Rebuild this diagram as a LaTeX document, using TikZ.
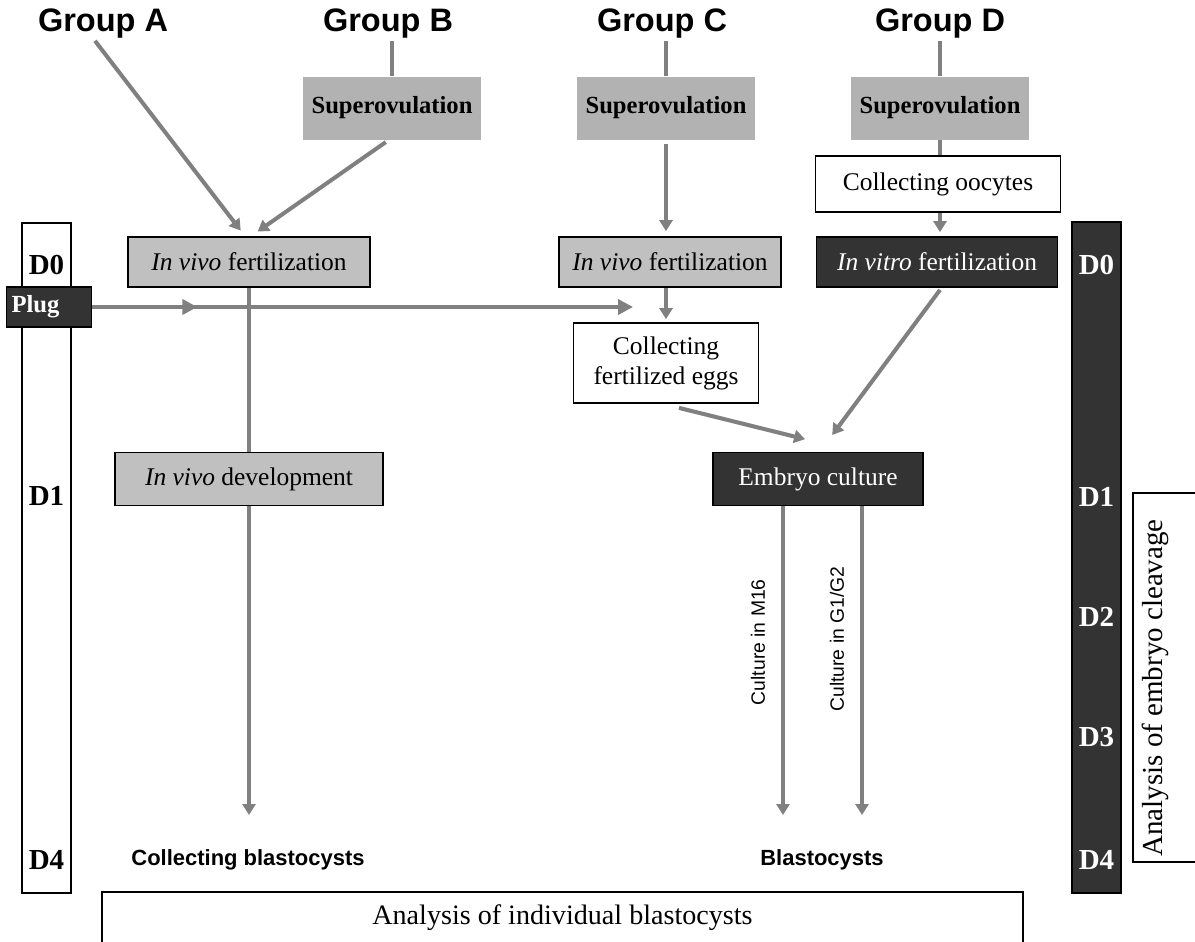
\documentclass[tikz,border=0pt]{standalone}
\usepackage{fontspec}
\setmainfont{Liberation Serif}
\newfontfamily\arialfont{Liberation Sans}
\usetikzlibrary{arrows.meta,decorations.markings}
\definecolor{supergray}{RGB}{178,178,178}
\definecolor{boxgray}{RGB}{192,192,192}
\definecolor{darkfill}{RGB}{51,51,51}
\definecolor{arrowgray}{RGB}{128,128,128}
\tikzset{
groupname/.style={
  font=\arialfont\bfseries\fontsize{18.5}{21}\selectfont,
  inner sep=1pt
},
superbox/.style={
  fill=supergray,
  minimum width=3.56cm,
  minimum height=1.26cm,
  font=\bfseries\fontsize{14}{17}\selectfont
},
lightbox/.style={
  draw=black,
  line width=1pt,
  fill=boxgray,
  minimum height=1cm,
  font=\fontsize{14.5}{17}\selectfont
},
whitebox/.style={
  draw=black,
  line width=1pt,
  fill=white,
  align=center,
  font=\fontsize{14.5}{17}\selectfont
},
darkbox/.style={
  draw=black,
  line width=1pt,
  fill=darkfill,
  text=white,
  font=\fontsize{14.5}{17}\selectfont
},
daylabel/.style={
  font=\bfseries\fontsize{16.5}{19}\selectfont,
  inner sep=1pt
},
resultlabel/.style={
  font=\arialfont\bfseries\fontsize{12.5}{15}\selectfont
},
mediumlabel/.style={
  font=\arialfont\fontsize{11}{13}\selectfont,
  rotate=90,
  anchor=south,
  inner sep=0.32cm
},
flowline/.style={
  draw=arrowgray,
  line width=2.3pt
},
flowarrow/.style={
  flowline,
  -{Triangle[length=2.2mm,width=2.6mm]}
}
}

\begin{document}
\begin{tikzpicture}[x=0.02cm, y=-0.02cm]
\clip (0,0) rectangle (1195,941);

\node[draw=black, line width=1.1pt, fill=white, minimum width=0.98cm, minimum height=13.4cm] (leftbar) at (46.5,558) {};
\node[draw=black, line width=1.1pt, fill=darkfill, minimum width=0.98cm, minimum height=13.42cm] (rightbar) at (1096.5,557.5) {};
\foreach \d/\y in {0/265,1/496,4/860}
  \node[daylabel] (left\d) at (46.5,\y) {D\d};
\foreach \d/\y in {0/265,1/497,2/617,3/737,4/860}
  \node[daylabel, text=white] (right\d) at (1096.5,\y) {D\d};

\node[groupname] (gA) at (103,24) {Group A};
\node[groupname] (gB) at (388,24) {Group B};
\node[groupname] (gC) at (662,24) {Group C};
\node[groupname] (gD) at (940,24) {Group D};

\node[superbox] (supB) at (392,108) {Superovulation};
\node[superbox] (supC) at (666,108) {Superovulation};
\node[superbox] (supD) at (940,108) {Superovulation};

\node[whitebox, minimum width=4.9cm, minimum height=1.12cm] (oocytes) at (938,184) {Collecting oocytes};

\node[lightbox, minimum width=4.84cm] (fertA) at (249,262) {\textit{In vivo} fertilization};
\node[lightbox, minimum width=4.44cm] (fertC) at (670,262) {\textit{In vivo} fertilization};
\node[darkbox, minimum width=4.82cm, minimum height=1cm] (vitro) at (937,262) {\textit{In vitro} fertilization};

\node[darkbox, font=\bfseries\fontsize{14}{17}\selectfont, text width=1.5cm, align=left, inner sep=0.1cm, minimum height=0.8cm] (plug) at (49,307) {Plug};

\node[whitebox, minimum width=3.7cm, minimum height=1.6cm] (eggs) at (666,363) {Collecting\\fertilized eggs};

\node[lightbox, minimum width=5.36cm, minimum height=1.06cm] (devA) at (249,479) {\textit{In vivo} development};
\node[darkbox, minimum width=4.2cm, minimum height=1.06cm] (culture) at (818,479) {Embryo culture};

\node[resultlabel] (blastA) at (248,860) {Collecting blastocysts};
\node[resultlabel] (blastC) at (822,860) {Blastocysts};

\draw[line width=1pt] (1133,493) rectangle (1240,862);
\node[rotate=90, font=\fontsize{16.5}{19}\selectfont] (cleavage) at (1155,688) {Analysis of embryo cleavage};

\node[draw=black, line width=1pt, minimum width=18.42cm, minimum height=1.04cm, font=\fontsize{16}{19}\selectfont] (indiv) at (562.5,918) {Analysis of individual blastocysts};

\coordinate (endA) at (249,815);
\coordinate (endM16) at (783,815);
\coordinate (endG12) at (862,815);

\draw[flowarrow, shorten >=0.14cm] ([xshift=-0.16cm]gA.south) -- ([xshift=-0.08cm]fertA.north);
\draw[flowline] (supB.north |- gB.south) -- (supB.north);
\draw[flowarrow, shorten <=0.08cm, shorten >=0.16cm] ([xshift=-0.06cm]supB.south) -- ([xshift=0.04cm]fertA.north);

\draw[flowline] (supC.north |- gC.south) -- (supC.north);
\draw[flowarrow, shorten <=0.08cm, shorten >=0.1cm] (supC.south) -- (supC.south |- fertC.north);

\draw[flowline] (supD.north |- gD.south) -- (supD.north);
\draw[flowline] (supD.south) -- (supD.south |- oocytes.north);
\draw[flowarrow, shorten >=0.08cm] (supD.south |- oocytes.south) -- (supD.south |- vitro.north);

\draw[flowline] (fertA) -- (devA);
\draw[flowarrow] (devA) -- (endA);

\draw[flowarrow, shorten >=0.06cm] (eggs.north |- fertC.south) -- (eggs.north);
\draw[flowline, -{Triangle[length=3mm,width=3mm]}, shorten >=0.66cm,
  postaction={decorate},
  decoration={markings, mark=at position 2.1cm with {\arrow{Triangle[length=3mm,width=3mm]}}}]
  (plug.east) -- (plug.east -| eggs.north);

\draw[flowarrow, shorten >=0.04cm] ([xshift=0.26cm,yshift=-0.08cm]eggs.south) -- ([xshift=-0.22cm,yshift=0.24cm]culture.north);
\draw[flowarrow, shorten >=0.04cm] ([xshift=0.06cm,yshift=-0.04cm]vitro.south) -- ([xshift=0.26cm,yshift=0.3cm]culture.north);

\draw[flowarrow] (culture.south -| endM16) -- (endM16) node[mediumlabel, pos=0.44] {Culture in M16};
\draw[flowarrow] (culture.south -| endG12) -- (endG12) node[mediumlabel, pos=0.43] {Culture in G1/G2};

\end{tikzpicture}
\end{document}
